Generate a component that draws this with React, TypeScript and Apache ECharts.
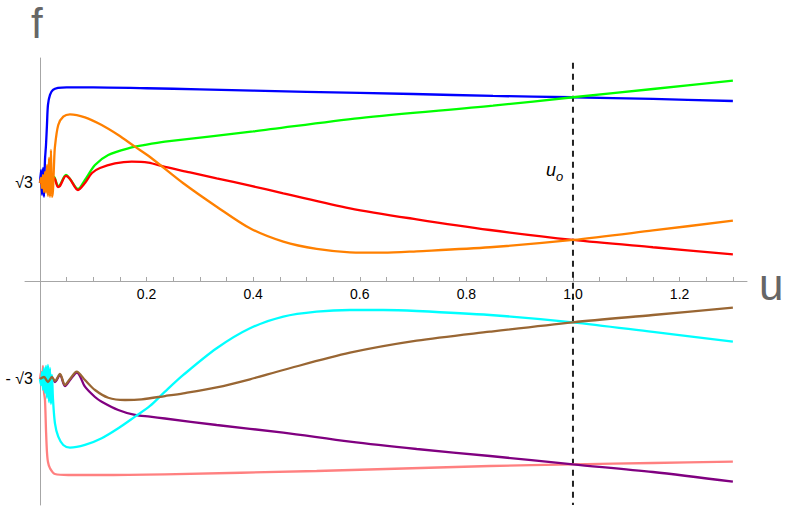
import React, { useEffect, useRef } from "react";
import * as echarts from "echarts";

// ---- data (u, f) ----
const blue: number[][] = [
  [0, 1.732], [0.0019, 1.962], [0.0038, 1.52], [0.0056, 1.997], [0.0075, 1.485], [0.0094, 2.139],
  [0.0113, 2.404], [0.0131, 2.757], [0.015, 3.111], [0.0188, 3.288], [0.0244, 3.376], [0.0338, 3.411],
  [0.05, 3.423], [0.1, 3.423], [0.2, 3.406], [0.3, 3.388], [0.5, 3.344], [0.7, 3.305], [0.85, 3.27],
  [1.0, 3.247], [1.15, 3.217], [1.3, 3.181],
];
const green: number[][] = [
  [0, 1.732], [0.0188, 1.767], [0.0263, 1.838], [0.0338, 1.679], [0.0375, 1.697], [0.0488, 1.873],
  [0.0563, 1.803], [0.0713, 1.626], [0.0844, 1.785], [0.1032, 2.05], [0.1281, 2.227], [0.1657, 2.345],
  [0.197, 2.404], [0.2345, 2.462], [0.4, 2.643], [0.6, 2.879], [0.85, 3.098], [1.0, 3.247],
  [1.15, 3.393], [1.3, 3.54],
];
const red: number[][] = [
  [0, 1.732], [0.0188, 1.767], [0.0263, 1.82], [0.0338, 1.661], [0.0375, 1.679], [0.0488, 1.856],
  [0.0563, 1.803], [0.0713, 1.608], [0.0844, 1.732], [0.0976, 1.909], [0.1126, 1.997], [0.1407, 2.077],
  [0.172, 2.109], [0.2032, 2.091], [0.2345, 2.015], [0.2815, 1.92], [0.3315, 1.815], [0.394, 1.685],
  [0.4565, 1.55], [0.5816, 1.285], [0.7068, 1.09], [0.8443, 0.901], [1.0, 0.725], [1.15, 0.596], [1.3, 0.472],
];
const orange: number[][] = [
  [0, 1.732], [0.0019, 1.82], [0.0038, 1.644], [0.0056, 1.873], [0.0075, 1.573], [0.0094, 1.926],
  [0.0113, 1.555], [0.0131, 2.05], [0.015, 1.502], [0.0169, 2.174], [0.0188, 1.485], [0.0206, 2.315],
  [0.0225, 1.485], [0.0244, 1.608], [0.0263, 2.05], [0.0281, 2.374], [0.0343, 2.757], [0.0437, 2.904],
  [0.0563, 2.946], [0.0844, 2.893], [0.1158, 2.757], [0.1469, 2.58], [0.1782, 2.374], [0.2064, 2.192],
  [0.2689, 1.727], [0.3315, 1.313], [0.394, 0.931], [0.4565, 0.695], [0.5191, 0.566], [0.5816, 0.507],
  [0.6441, 0.5], [0.7068, 0.525], [0.8443, 0.596], [1.0, 0.725], [1.15, 0.893], [1.3, 1.066],
];
const pink: number[][] = [
  [0, -1.732], [0.0019, -1.608], [0.0038, -1.838], [0.0056, -1.502], [0.0075, -1.962], [0.0094, -2.103],
  [0.0113, -2.633], [0.0131, -3.022], [0.015, -3.199], [0.0188, -3.31], [0.0281, -3.411], [0.0531, -3.429],
  [0.1126, -3.429], [0.2345, -3.416], [0.5191, -3.358], [0.8443, -3.27], [1.0, -3.24], [1.15, -3.217],
  [1.3, -3.194],
];
const purple: number[][] = [
  [0, -1.732], [0.0075, -1.715], [0.015, -1.803], [0.0225, -1.715], [0.0281, -1.785], [0.0375, -1.661],
  [0.0469, -1.856], [0.0563, -1.75], [0.0694, -1.617], [0.0844, -1.868], [0.1032, -2.05], [0.1158, -2.133],
  [0.1469, -2.28], [0.1782, -2.368], [0.2064, -2.398], [0.2345, -2.43], [0.3315, -2.545], [0.4565, -2.681],
  [0.5816, -2.84], [0.7068, -2.969], [0.8443, -3.093], [1.0, -3.24], [1.15, -3.376], [1.3, -3.547],
];
const cyan: number[][] = [
  [0, -1.732], [0.0019, -1.838], [0.0038, -1.608], [0.0056, -1.926], [0.0075, -1.538], [0.0094, -1.979],
  [0.0113, -1.502], [0.0131, -2.068], [0.015, -1.485], [0.0169, -2.139], [0.0188, -1.538], [0.0206, -2.174],
  [0.0225, -1.661], [0.0244, -2.086], [0.0281, -2.515], [0.0343, -2.751], [0.0437, -2.898], [0.0563, -2.946],
  [0.0844, -2.898], [0.1158, -2.779], [0.1469, -2.603], [0.1782, -2.398], [0.2064, -2.209], [0.2345, -1.956],
  [0.2689, -1.661], [0.3315, -1.189], [0.394, -0.836], [0.4565, -0.631], [0.5191, -0.543], [0.5816, -0.513],
  [0.6441, -0.513], [0.7068, -0.53], [0.8443, -0.601], [1.0, -0.73], [1.15, -0.901], [1.3, -1.073],
];
const brown: number[][] = [
  [0, -1.732], [0.0075, -1.697], [0.015, -1.785], [0.0225, -1.697], [0.0281, -1.767], [0.0375, -1.644],
  [0.0469, -1.838], [0.0563, -1.732], [0.0689, -1.603], [0.0844, -1.75], [0.1032, -1.927], [0.1281, -2.063],
  [0.1595, -2.103], [0.1908, -2.091], [0.2345, -2.033], [0.2689, -1.985], [0.3315, -1.88], [0.394, -1.737],
  [0.4565, -1.573], [0.5816, -1.268], [0.7068, -1.055], [0.8443, -0.896], [1.0, -0.73], [1.15, -0.601],
  [1.3, -0.472],
];

const majorTicks = [0.2, 0.4, 0.6, 0.8, 1.0, 1.2];
const allTicks = [0.05, 0.1, 0.15, 0.2, 0.25, 0.3, 0.35, 0.4, 0.45, 0.5, 0.55, 0.6, 0.65, 0.7, 0.75, 0.8, 0.85, 0.9, 0.95, 1.0, 1.05, 1.1, 1.15, 1.2, 1.25, 1.3];
const yTicks = [-Math.sqrt(3), Math.sqrt(3)];
const yTickLabels = ["- √3", "√3"];
const uO = 1.0;
const dashTop = 3.858;

const X_MIN = -0.0281;
const X_MAX = 1.3265;
const Y_MIN = -3.959;
const Y_MAX = 3.941;

const curves = [
  { name: "blue", data: blue, color: "#0000ff" },
  { name: "green", data: green, color: "#00ff00" },
  { name: "red", data: red, color: "#ff0000" },
  { name: "orange", data: orange, color: "#ff8000" },
  { name: "pink", data: pink, color: "#ff8080" },
  { name: "purple", data: purple, color: "#800080" },
  { name: "cyan", data: cyan, color: "#00ffff" },
  { name: "brown", data: brown, color: "#996633" },
];

export default function App() {
  const ref = useRef<HTMLDivElement>(null);
  useEffect(() => {
    if (!ref.current) return;
    const chart = echarts.init(ref.current, null, { renderer: "svg" });
    const axisColor = "#a6a6a6";
    const font = "Liberation Sans, Arial, sans-serif";
    const option: any = {
      animation: false,
      grid: { left: 25, right: 38, top: 58, bottom: 1, containLabel: false, outerBoundsMode: "none" },
      xAxis: {
        type: "value",
        min: X_MIN,
        max: X_MAX,
        splitLine: { show: false },
        axisLine: { show: true, onZero: true, lineStyle: { color: axisColor, width: 1 } },
        axisTick: { show: true, inside: true, length: 4, customValues: allTicks, lineStyle: { color: axisColor } },
        axisLabel: { show: false },
      },
      yAxis: {
        type: "value",
        min: Y_MIN,
        max: Y_MAX,
        splitLine: { show: false },
        axisLine: { show: true, onZero: true, lineStyle: { color: axisColor, width: 1 } },
        axisTick: { show: true, inside: true, length: 4, customValues: yTicks, lineStyle: { color: axisColor } },
        axisLabel: { show: false },
      },
      series: [
        {
          type: "line",
          data: [[uO, dashTop], [uO, Y_MIN]],
          symbol: "none",
          lineStyle: { color: "#222", width: 2, type: [6, 5] },
          silent: true,
          z: 1,
        },
        ...curves.map((c) => ({
          type: "line",
          name: c.name,
          data: c.data,
          symbol: "none",
          smooth: 0.3,
          lineStyle: { color: c.color, width: 2.3 },
          z: 2,
        })),
        {
          type: "custom",
          data: majorTicks.map((v) => [v, 0]),
          silent: true,
          z: 3,
          renderItem: (params: any, api: any) => {
            const p = api.coord([api.value(0), api.value(1)]);
            return {
              type: "text",
              x: p[0],
              y: p[1] + 6,
              style: {
                text: majorTicks[params.dataIndex].toFixed(1),
                fontSize: 14,
                fontFamily: font,
                fill: "#000",
                align: "center",
                verticalAlign: "top",
              },
            };
          },
        },
        {
          type: "custom",
          data: yTicks.map((v) => [0, v]),
          silent: true,
          z: 3,
          renderItem: (params: any, api: any) => {
            const p = api.coord([api.value(0), api.value(1)]);
            return {
              type: "text",
              x: p[0] - 7,
              y: p[1],
              style: {
                text: yTickLabels[params.dataIndex],
                fontSize: 16,
                fontFamily: font,
                fill: "#000",
                align: "right",
                verticalAlign: "middle",
              },
            };
          },
        },
      ],
      graphic: [
        {
          type: "text",
          left: 31,
          top: 2,
          style: { text: "f", fontSize: 42, fill: "#666", fontFamily: font },
        },
        {
          type: "text",
          left: 759,
          top: 262,
          style: { text: "u", fontSize: 44, fill: "#666", fontFamily: font },
        },
        {
          type: "text",
          left: 546,
          top: 161,
          style: { text: "u", fontSize: 18, fontStyle: "italic", fill: "#000", fontFamily: font },
        },
        {
          type: "text",
          left: 556,
          top: 170,
          style: { text: "o", fontSize: 13, fontStyle: "italic", fill: "#000", fontFamily: font },
        },
      ],
    };
    chart.setOption(option);
    return () => chart.dispose();
  }, []);
  return (
    <div
      ref={ref}
      style={{ position: "fixed", left: 0, top: 0, width: 785, height: 506, background: "#fff" }}
    />
  );
}
